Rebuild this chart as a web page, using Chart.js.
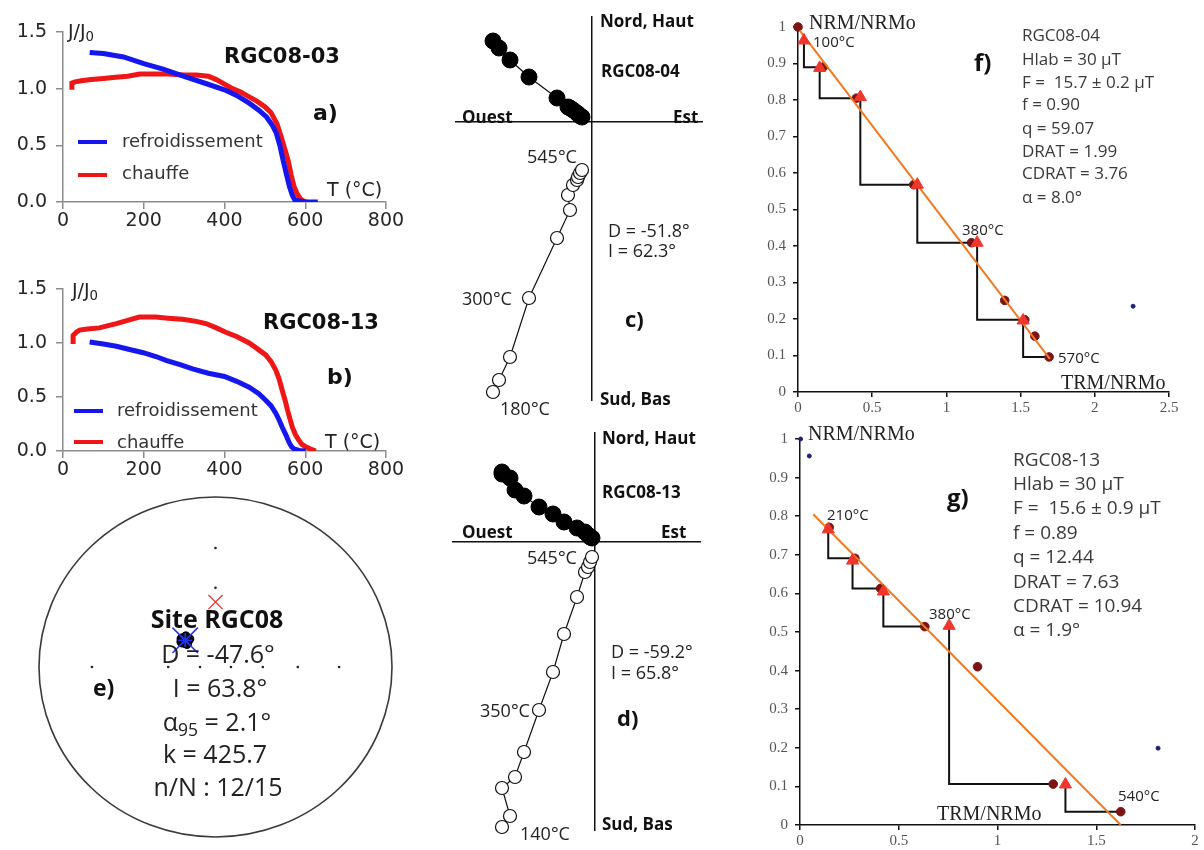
<!DOCTYPE html>
<html><head><meta charset="utf-8">
<script src="https://cdn.jsdelivr.net/npm/chart.js@4.4.1/dist/chart.umd.min.js"></script>
<style>
html,body{margin:0;padding:0;background:#fff;}
#root{position:relative;width:1204px;height:850px;overflow:hidden;background:#fff;}
.t{position:absolute;white-space:pre;line-height:1;transform:translateY(-50%);color:#111;}
.c{transform:translate(-50%,-50%);}
.vd{font-family:'DejaVu Sans',Verdana,sans-serif;}
.os{font-family:'Open Sans',sans-serif;}
.sf{font-family:'Liberation Serif','Times New Roman',serif;}
.b{font-weight:bold;}
.lg{position:absolute;height:4px;}
sub{font-size:70%;vertical-align:-0.3em;line-height:0;}
</style></head><body><div id="root"></div>
<script>
// ---------- a) RGC08-03 thermomagnetic curves ----------
const tempA_heat = [22,22,30,45,70,100,130,160,190,220,260,300,330,360,380,400,420,440,460,480,500,515,530,540,550,558,565,572,580,588,595,602];
const jA_heat    = [0.99,1.05,1.06,1.07,1.08,1.09,1.10,1.11,1.13,1.13,1.13,1.12,1.12,1.11,1.08,1.04,1.00,0.97,0.93,0.89,0.84,0.79,0.69,0.58,0.46,0.36,0.24,0.14,0.07,0.03,0.01,0.0];
const tempA_cool = [66,100,150,200,250,298,350,400,430,462,485,504,518,528,537,545,553,561,568,574,585,600,631];
const jA_cool    = [1.32,1.31,1.28,1.22,1.17,1.11,1.05,0.99,0.94,0.87,0.81,0.75,0.68,0.61,0.50,0.37,0.25,0.135,0.06,0.02,0.01,0.0,0.0];
// ---------- b) RGC08-13 thermomagnetic curves ----------
const tempB_heat = [25,25,33,41,60,90,132,160,189,230,260,296,330,354,380,403,430,461,480,502,515,527,535,543,550,556,562,568,576,584,592,601,612,626];
const jB_heat    = [0.99,1.07,1.10,1.12,1.13,1.14,1.18,1.21,1.24,1.24,1.23,1.22,1.20,1.18,1.14,1.10,1.06,1.00,0.95,0.89,0.83,0.75,0.67,0.56,0.47,0.38,0.30,0.22,0.15,0.10,0.06,0.04,0.02,0.0];
const tempB_cool = [66,100,132,165,199,230,255,290,321,360,400,430,461,485,502,515,527,535,543,552,560,566,572,585,601];
const jB_cool    = [1.01,0.99,0.97,0.94,0.91,0.875,0.84,0.80,0.76,0.72,0.69,0.645,0.59,0.53,0.47,0.42,0.35,0.29,0.22,0.15,0.08,0.04,0.02,0.005,0.0];
const thermoXTicks = [0,200,400,600,800];
const thermoYTicks = [0,0.5,1.0,1.5];
// ---------- c) Zijderveld RGC08-04 (arbitrary units) ----------
const zijC_east  = [-9.9,-9.3,-8.2,-6.3,-3.5,-2.2,-2.4,-1.9,-1.5,-1.4,-1.2,-1.0];
const zijC_north = [8.1,7.4,6.2,4.5,2.4,1.4,1.5,1.2,0.9,0.8,0.6,0.5];
const zijC_up    = [-27.0,-25.8,-23.5,-17.6,-11.6,-8.8,-7.3,-6.3,-5.8,-5.5,-5.1,-4.8];
// ---------- d) Zijderveld RGC08-13 ----------
const zijD_east  = [-9.3,-8.5,-9.3,-8.0,-7.1,-5.6,-4.2,-3.1,-1.8,-1.0,-0.7,-0.5,-0.3];
const zijD_north = [7.0,6.4,6.8,5.2,4.6,3.5,2.8,2.0,1.4,1.0,0.7,0.5,0.4];
const zijD_up    = [-28.5,-27.4,-24.6,-23.5,-21.0,-16.8,-13.0,-9.2,-5.5,-3.0,-2.5,-2.0,-1.5];
// ---------- e) site stereonet ----------
const siteDec = [-43,-51,-45,-53,-48,-44,-50,-52,-47,-42,-49,-46];
const siteInc = [62.3,64.8,65.3,63,61.8,64.2,66.2,62.5,63.5,65,61.4,64.4];
const meanDec = [-47.6], meanInc = [63.8];
const refDec = [0], refInc = [48.2];
const netDec = [0,0,90,90,90,90,270,270,270];
const netInc = [40,20,80,60,40,20,80,60,20];
// ---------- f) Arai RGC08-04 ----------
const araiF_trm = [0,0.169,0.393,0.78,1.169,1.393,1.528,1.596,1.692];
const araiF_nrm = [1.0,0.89,0.805,0.568,0.409,0.251,0.198,0.153,0.096];
const araiF_chkX = [0.04,0.146,0.42,0.804,1.207,1.517];
const araiF_chkY = [0.963,0.888,0.808,0.568,0.409,0.196];
const araiF_chkTo = [1,2,3,4,6,8];
const araiF_fitX = [0.011,1.697], araiF_fitY = [0.991,0.091];
const araiF_outX = [2.258], araiF_outY = [0.235];
const araiF_xTicks = [0,0.5,1,1.5,2,2.5];
// ---------- g) Arai RGC08-13 ----------
const araiG_trm = [0.148,0.278,0.408,0.632,0.899,1.282,1.624];
const araiG_nrm = [0.771,0.691,0.613,0.514,0.41,0.106,0.0345];
const araiG_chkX = [0.143,0.266,0.422,0.755,1.344];
const araiG_chkY = [0.766,0.685,0.605,0.516,0.105];
const araiG_chkTo = [1,2,3,5,6];
const araiG_fitX = [0.067,1.624], araiG_fitY = [0.805,0.0];
const araiG_outX = [0.003,0.047,1.813], araiG_outY = [1.0,0.956,0.199];
const araiG_xTicks = [0,0.5,1,1.5,2];
const araiYTicks = [0,0.1,0.2,0.3,0.4,0.5,0.6,0.7,0.8,0.9,1];

// ================= drawing =================
const root = document.getElementById('root');
const zip = (xs, ys) => xs.map((x, i) => ({x: x, y: ys[i]}));

function makeChart(box, area, yW, xH, cfg) {
  const cv = document.createElement('canvas');
  cv.width = box.w; cv.height = box.h;
  Object.assign(cv.style, {position: 'absolute', left: box.l + 'px', top: box.t + 'px', width: box.w + 'px', height: box.h + 'px'});
  root.appendChild(cv);
  cfg.options = cfg.options || {};
  cfg.options.responsive = false;
  cfg.options.animation = false;
  cfg.options.devicePixelRatio = 1;
  cfg.options.events = [];
  cfg.options.layout = {autoPadding: false, padding: {left: area.x0 - box.l - yW, top: area.y0 - box.t, right: box.l + box.w - area.x1, bottom: box.t + box.h - area.y1 - xH}};
  cfg.options.plugins = Object.assign({legend: {display: false}, tooltip: {enabled: false}}, cfg.options.plugins || {});
  return new Chart(cv.getContext('2d'), cfg);
}

function thermoChart(box, area, xH, heatT, heatJ, coolT, coolJ) {
  const axisCol = '#8c8c8c';
  const font = {family: 'DejaVu Sans', size: 19};
  const common = {
    grid: {display: true, drawOnChartArea: false, drawTicks: true, tickLength: 7, color: axisCol, lineWidth: 1.5},
    border: {display: true, color: axisCol, width: 1.5}
  };
  return makeChart(box, area, 63, xH, {
    type: 'scatter',
    data: {datasets: [
      {data: zip(coolT, coolJ), showLine: true, borderColor: '#1616ee', borderWidth: 5, pointRadius: 0, tension: 0},
      {data: zip(heatT, heatJ), showLine: true, borderColor: '#ee1616', borderWidth: 5, pointRadius: 0, tension: 0}
    ]},
    options: {scales: {
      x: Object.assign({type: 'linear', min: 0, max: 800,
        afterBuildTicks: s => { s.ticks = thermoXTicks.map(v => ({value: v})); },
        afterFit: s => { s.height = xH; },
        ticks: {font: font, color: '#262626', padding: 1, maxRotation: 0}}, common),
      y: Object.assign({type: 'linear', min: 0, max: 1.5,
        afterBuildTicks: s => { s.ticks = thermoYTicks.map(v => ({value: v})); },
        afterFit: s => { s.width = 63; },
        ticks: {font: font, color: '#262626', padding: 9, callback: v => v.toFixed(1)}}, common)
    }}
  });
}

function zijChart(box, area, xr, yr, E, N, U) {
  const ax = {ticks: {display: false}, grid: {display: false}, border: {display: true, color: '#111', width: 1.5}};
  return makeChart(box, area, 0, 0, {
    type: 'scatter',
    data: {datasets: [
      {data: zip(E, N), showLine: true, borderColor: '#111', borderWidth: 1.2, pointRadius: 8, pointBackgroundColor: '#000', pointBorderColor: '#000', pointBorderWidth: 1},
      {data: zip(E, U), showLine: true, borderColor: '#111', borderWidth: 1.2, pointRadius: 6.5, pointBackgroundColor: '#fff', pointBorderColor: '#111', pointBorderWidth: 1.2}
    ]},
    options: {clip: false, scales: {
      x: Object.assign({type: 'linear', min: xr[0], max: xr[1], position: {y: 0}}, ax),
      y: Object.assign({type: 'linear', min: yr[0], max: yr[1], position: {x: 0}}, ax)
    }}
  });
}

function araiChart(box, area, xMax, xTicks, trm, nrm, chkX, chkY, chkTo, fitX, fitY, outX, outY) {
  const font = {family: 'Liberation Serif', size: 15};
  const common = {
    grid: {display: true, drawOnChartArea: false, drawTicks: true, tickLength: 5, color: '#111', lineWidth: 1.5},
    border: {display: true, color: '#111', width: 1.5}
  };
  const steps = chkX.map((x, k) => {
    const t = chkTo[k];
    return {data: [{x: x, y: chkY[k]}, {x: x, y: nrm[t]}, {x: trm[t], y: nrm[t]}], showLine: true,
      borderColor: '#111', borderWidth: 2, pointRadius: 0, order: 5};
  });
  return makeChart(box, area, area.x0 - box.l, 26, {
    type: 'scatter',
    data: {datasets: [
      {data: zip(chkX, chkY), pointStyle: 'triangle', pointRadius: 7, pointBackgroundColor: '#f0362c', pointBorderColor: '#f0362c', order: 0},
      {data: zip(fitX, fitY), showLine: true, borderColor: '#f07a22', borderWidth: 2, pointRadius: 0, order: 1},
      {data: zip(trm, nrm), pointRadius: 4.3, pointBackgroundColor: '#7d1414', pointBorderColor: '#7d1414', order: 2},
      {data: zip(outX, outY), pointRadius: 2, pointBackgroundColor: '#20207a', pointBorderColor: '#20207a', order: 3}
    ].concat(steps)},
    options: {clip: false, scales: {
      x: Object.assign({type: 'linear', min: 0, max: xMax,
        afterBuildTicks: s => { s.ticks = xTicks.map(v => ({value: v})); },
        afterFit: s => { s.height = 26; },
        ticks: {font: font, color: '#555', padding: 2, maxRotation: 0, callback: v => String(v)}}, common),
      y: Object.assign({type: 'linear', min: 0, max: 1,
        afterBuildTicks: s => { s.ticks = araiYTicks.map(v => ({value: v})); },
        afterFit: s => { s.width = area.x0 - box.l; },
        ticks: {font: font, color: '#555', padding: 7, callback: v => String(v)}}, common)
    }}
  });
}

function wulff(D, I) {
  const r = Math.tan((90 - I) / 2 * Math.PI / 180);
  const d = D * Math.PI / 180;
  return {x: r * Math.sin(d), y: r * Math.cos(d)};
}
const proj = (Ds, Is) => Ds.map((d, i) => wulff(d, Is[i]));

const netCircle = {
  id: 'netCircle',
  beforeDatasetsDraw(chart) {
    const {ctx, scales: {x, y}} = chart;
    const cx = x.getPixelForValue(0), cy = y.getPixelForValue(0);
    const rx = x.getPixelForValue(1) - cx, ry = cy - y.getPixelForValue(1);
    ctx.save();
    ctx.strokeStyle = '#3a3a3a'; ctx.lineWidth = 1.6;
    ctx.beginPath(); ctx.ellipse(cx, cy, rx, ry, 0, 0, 2 * Math.PI); ctx.stroke();
    ctx.restore();
  }
};

// a)
thermoChart({l: 0, t: 0, w: 420, h: 235}, {x0: 63, y0: 32, x1: 386, y1: 202}, 33, tempA_heat, jA_heat, tempA_cool, jA_cool);
// b)
thermoChart({l: 0, t: 240, w: 420, h: 240}, {x0: 63, y0: 289, x1: 386, y1: 451}, 29, tempB_heat, jB_heat, tempB_cool, jB_cool);
// c)
zijChart({l: 440, t: 0, w: 270, h: 420}, {x0: 456, y0: 17, x1: 702, y1: 400}, [-13.6, 11.0], [-27.8, 10.5], zijC_east, zijC_north, zijC_up);
// d)
zijChart({l: 440, t: 420, w: 270, h: 430}, {x0: 453, y0: 433, x1: 700, y1: 830}, [-14.2, 10.5], [-28.8, 10.9], zijD_east, zijD_north, zijD_up);
// e)
makeChart({l: 30, t: 480, w: 370, h: 370}, {x0: 39, y0: 497, x1: 392, y1: 837}, 0, 0, {
  type: 'scatter',
  data: {datasets: [
    {data: proj(refDec, refInc), pointStyle: 'crossRot', pointRadius: 10, pointBorderColor: '#ee3030', pointBorderWidth: 1.3},
    {data: proj(meanDec, meanInc), pointStyle: 'crossRot', pointRadius: 18, pointBorderColor: '#2233ee', pointBorderWidth: 1.5},
    {data: proj(meanDec, meanInc), pointStyle: 'star', pointRadius: 7, pointBackgroundColor: '#2233ee', pointBorderColor: '#2233ee', pointBorderWidth: 1.6},
    {data: proj(siteDec, siteInc), pointRadius: 4.5, pointBackgroundColor: '#000', pointBorderColor: '#000'},
    {data: proj(netDec, netInc), pointRadius: 1.3, pointBackgroundColor: '#222', pointBorderColor: '#222', pointBorderWidth: 0}
  ]},
  options: {clip: false, scales: {
    x: {type: 'linear', min: -1, max: 1, display: false},
    y: {type: 'linear', min: -1, max: 1, display: false}
  }},
  plugins: [netCircle]
});
// f)
araiChart({l: 740, t: 0, w: 464, h: 420}, {x0: 798, y0: 27, x1: 1169, y1: 392}, 2.5, araiF_xTicks,
  araiF_trm, araiF_nrm, araiF_chkX, araiF_chkY, araiF_chkTo, araiF_fitX, araiF_fitY, araiF_outX, araiF_outY);
// g)
araiChart({l: 740, t: 420, w: 464, h: 430}, {x0: 800, y0: 439, x1: 1195, y1: 825}, 2, araiG_xTicks,
  araiG_trm, araiG_nrm, araiG_chkX, araiG_chkY, araiG_chkTo, araiG_fitX, araiG_fitY, araiG_outX, araiG_outY);

// ================= text =================
function txt(html, x, y, cls, size, color) {
  const d = document.createElement('div');
  d.className = 't ' + cls;
  d.style.left = x + 'px'; d.style.top = y + 'px'; d.style.fontSize = size + 'px';
  if (color) d.style.color = color;
  d.innerHTML = html;
  root.appendChild(d);
}
function legLine(x0, x1, y, color) {
  const d = document.createElement('div');
  d.className = 'lg';
  Object.assign(d.style, {left: x0 + 'px', top: (y - 2) + 'px', width: (x1 - x0) + 'px', background: color});
  root.appendChild(d);
}
// a
txt('J/J<sub>0</sub>', 68, 31, 'vd', 19, '#222');
txt('RGC08-03', 224, 56, 'vd b', 21);
txt('a)', 313, 113, 'vd b', 22);
legLine(78, 107, 142, '#1616ee'); txt('refroidissement', 122, 141, 'vd', 18, '#333');
legLine(78, 107, 175, '#ee1616'); txt('chauffe', 122, 173, 'vd', 18, '#333');
txt('T (°C)', 327, 189, 'vd', 19, '#222');
// b
txt('J/J<sub>0</sub>', 72, 290, 'vd', 19, '#222');
txt('RGC08-13', 263, 322, 'vd b', 21);
txt('b)', 327, 377, 'vd b', 22);
legLine(74, 103, 411, '#1616ee'); txt('refroidissement', 117, 410, 'vd', 18, '#333');
legLine(74, 103, 442, '#ee1616'); txt('chauffe', 117, 442, 'vd', 18, '#333');
txt('T (°C)', 325, 441, 'vd', 19, '#222');
// c
txt('Nord, Haut', 600, 20, 'os b', 17);
txt('RGC08-04', 601, 70, 'os b', 17);
txt('Ouest', 462, 116, 'os b', 17);
txt('Est', 673, 116, 'os b', 17);
txt('Sud, Bas', 600, 398, 'os b', 17);
txt('545°C', 527, 156, 'os', 18, '#222');
txt('300°C', 462, 298, 'os', 18, '#222');
txt('180°C', 500, 408, 'os', 18, '#222');
txt('D = -51.8°', 608, 230, 'os', 18, '#222');
txt('I = 62.3°', 608, 250, 'os', 18, '#222');
txt('c)', 625, 318, 'os b', 22);
// d
txt('Nord, Haut', 602, 437, 'os b', 17);
txt('RGC08-13', 602, 491, 'os b', 17);
txt('Ouest', 462, 531, 'os b', 17);
txt('Est', 661, 531, 'os b', 17);
txt('Sud, Bas', 602, 823, 'os b', 17);
txt('545°C', 527, 557, 'os', 18, '#222');
txt('350°C', 480, 710, 'os', 18, '#222');
txt('140°C', 520, 833, 'os', 18, '#222');
txt('D = -59.2°', 611, 651, 'os', 18, '#222');
txt('I = 65.8°', 611, 672, 'os', 18, '#222');
txt('d)', 617, 717, 'os b', 22);
// e
txt('Site RGC08', 217, 618, 'os b c', 25);
txt('D = -47.6°', 218, 653, 'os c', 25, '#222');
txt('I = 63.8°', 220, 687, 'os c', 25, '#222');
txt('α<sub>95</sub> = 2.1°', 217, 721, 'os c', 25, '#222');
txt('k = 425.7', 215, 753, 'os c', 25, '#222');
txt('n/N : 12/15', 218, 786, 'os c', 25, '#222');
txt('e)', 93, 687, 'os b', 23);
// f
txt('NRM/NRMo', 809, 22, 'sf', 20, '#222');
txt('100°C', 813, 41, 'os', 15, '#222');
txt('380°C', 962, 229, 'os', 15, '#222');
txt('570°C', 1058, 357, 'os', 15, '#222');
txt('TRM/NRMo', 1061, 382, 'sf', 20, '#222');
txt('f)', 974, 62, 'os b', 24);
const fBlock = ['RGC08-04', 'Hlab = 30 µT', 'F =  15.7 ± 0.2 µT', 'f = 0.90', 'q = 59.07', 'DRAT = 1.99', 'CDRAT = 3.76', 'α = 8.0°'];
const fBlockY = [34, 58, 81, 103, 127, 150, 172, 196];
fBlock.forEach((s, i) => txt(s, 1022, fBlockY[i], 'os', 17, '#3a3a3a'));
// g
txt('NRM/NRMo', 808, 433, 'sf', 20, '#222');
txt('210°C', 827, 514, 'os', 15, '#222');
txt('380°C', 929, 613, 'os', 15, '#222');
txt('540°C', 1118, 795, 'os', 15, '#222');
txt('TRM/NRMo', 937, 813, 'sf', 20, '#222');
txt('g)', 947, 497, 'os b', 24);
const gBlock = ['RGC08-13', 'Hlab = 30 µT', 'F =  15.6 ± 0.9 µT', 'f = 0.89', 'q = 12.44', 'DRAT = 7.63', 'CDRAT = 10.94', 'α = 1.9°'];
const gBlockY = [459, 483, 507, 532, 556, 581, 605, 629];
gBlock.forEach((s, i) => txt(s, 1013, gBlockY[i], 'os', 19, '#3a3a3a'));
</script></body></html>
